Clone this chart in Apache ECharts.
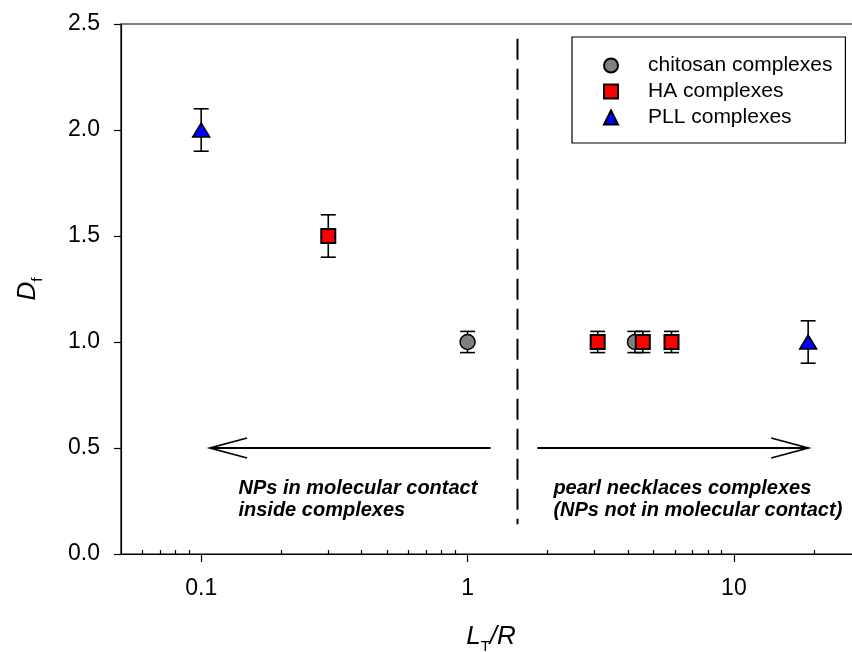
<!DOCTYPE html>
<html>
<head>
<meta charset="utf-8">
<script src="https://cdn.jsdelivr.net/npm/echarts@6/dist/echarts.min.js"></script>
<style>
  html, body { margin: 0; padding: 0; background: #fff; }
  #chart { width: 852px; height: 652px; }
</style>
</head>
<body>
<div id="chart"></div>
<script>
// values
var seriesNames = ['chitosan complexes', 'HA complexes', 'PLL complexes'];

var chitosanX = [1.0, 4.25];
var chitosanY = [1.0, 1.0];
var chitosanErr = [0.05, 0.05];

var haX = [0.3, 3.08, 4.55, 5.83];
var haY = [1.5, 1.0, 1.0, 1.0];
var haErr = [0.1, 0.05, 0.05, 0.05];

var pllX = [0.1, 19.0];
var pllY = [2.0, 1.0];
var pllErr = [0.1, 0.1];

var xMajorTicks = [0.1, 1, 10];
var xTickLabels = ['0.1', '1', '10'];
var xMinorTicks = [0.06, 0.07, 0.08, 0.09, 0.2, 0.3, 0.4, 0.5, 0.6, 0.7, 0.8, 0.9,
  2, 3, 4, 5, 6, 7, 8, 9, 20];
var yTicks = [0, 0.5, 1.0, 1.5, 2.0, 2.5];
var yTickLabels = ['0.0', '0.5', '1.0', '1.5', '2.0', '2.5'];

// annotations (data coordinates)
var dividerX = [1.54, 1.54];
var dividerY = [2.43, 0.14];
var arrowFrom = [1.22, 1.83];
var arrowTo = [0.108, 19.0];
var arrowY = [0.5, 0.5];
var noteX = [0.138, 2.10];
var noteY = [0.36, 0.36];
var noteText = [
  'NPs in molecular contact\ninside complexes',
  'pearl necklaces complexes\n(NPs not in molecular contact)'
];

var FONT = 'Liberation Sans, Arial, Helvetica, sans-serif';

function pairs(xs, ys) {
  return xs.map(function (x, i) { return [x, ys[i]]; });
}

function errRows(xs, ys, es) {
  return xs.map(function (x, i) { return [x, ys[i], es[i]]; });
}

function pickLabel(v, ticks, labels) {
  for (var i = 0; i < ticks.length; i++) {
    if (Math.abs(v - ticks[i]) < ticks[i] * 1e-6 + 1e-9) return labels[i];
  }
  return '';
}

function renderErrorBar(params, api) {
  var x = api.value(0), y = api.value(1), e = api.value(2);
  var top = api.coord([x, y + e]);
  var bot = api.coord([x, y - e]);
  var hw = 7.5;
  var style = { stroke: '#000', lineWidth: 1.6 };
  return {
    type: 'group',
    children: [
      { type: 'line', shape: { x1: top[0], y1: top[1], x2: bot[0], y2: bot[1] }, style: style },
      { type: 'line', shape: { x1: top[0] - hw, y1: top[1], x2: top[0] + hw, y2: top[1] }, style: style },
      { type: 'line', shape: { x1: bot[0] - hw, y1: bot[1], x2: bot[0] + hw, y2: bot[1] }, style: style }
    ]
  };
}

function renderArrow(params, api) {
  var a = api.coord([api.value(0), api.value(2)]);
  var b = api.coord([api.value(1), api.value(2)]);
  var dir = b[0] < a[0] ? 1 : -1;
  var len = 37, half = 10;
  var style = { stroke: '#000', lineWidth: 1.8, fill: null };
  return {
    type: 'group',
    children: [
      { type: 'line', shape: { x1: a[0], y1: a[1], x2: b[0], y2: b[1] }, style: style },
      {
        type: 'polyline',
        shape: { points: [[b[0] + dir * len, b[1] - half], [b[0], b[1]], [b[0] + dir * len, b[1] + half]] },
        style: style
      }
    ]
  };
}

function renderNote(params, api) {
  var p = api.coord([api.value(0), api.value(1)]);
  return {
    type: 'text',
    x: p[0],
    y: p[1],
    style: {
      text: noteText[params.dataIndex],
      fontSize: 20,
      fontWeight: 'bold',
      fontStyle: 'italic',
      fontFamily: FONT,
      lineHeight: 22,
      fill: '#000',
      align: 'left',
      verticalAlign: 'top'
    }
  };
}

var chart = echarts.init(document.getElementById('chart'));

var axisNameRich = {
  i: { fontSize: 26, fontStyle: 'italic', fontFamily: FONT, color: '#000', lineHeight: 34, verticalAlign: 'middle' },
  s: { fontSize: 15, fontFamily: FONT, color: '#000', lineHeight: 14, verticalAlign: 'bottom' }
};

var option = {
  animation: false,
  backgroundColor: '#fff',
  grid: {
    left: 121, top: 24, right: -9, bottom: 98,
    show: true, borderColor: '#000', borderWidth: 1.2,
    outerBoundsMode: 'none'
  },
  legend: {
    data: seriesNames,
    orient: 'vertical',
    left: 572,
    top: 37,
    itemWidth: 14,
    itemHeight: 14,
    itemGap: 5,
    padding: [18, 13, 15, 31],
    borderColor: '#000',
    borderWidth: 1.2,
    formatter: function (name) { return '{g| }' + name; },
    textStyle: {
      fontSize: 21, fontFamily: FONT, color: '#000', lineHeight: 21,
      rich: { g: { width: 25, fontSize: 21, lineHeight: 21 } }
    }
  },
  xAxis: [
    {
      type: 'log',
      logBase: 10,
      min: 0.05,
      max: 30,
      position: 'bottom',
      axisLine: { show: true, lineStyle: { color: '#000', width: 1.2 } },
      axisTick: { show: true, customValues: xMajorTicks, length: 8, lineStyle: { color: '#000', width: 1.2 } },
      axisLabel: {
        customValues: xMajorTicks,
        formatter: function (v) { return pickLabel(v, xMajorTicks, xTickLabels); },
        margin: 23, fontSize: 23, fontFamily: FONT, color: '#000'
      },
      splitLine: { show: false },
      name: '{i|L}{s|T}{i|/R}',
      nameLocation: 'middle',
      nameGap: 66,
      nameTextStyle: { rich: axisNameRich }
    },
    {
      type: 'log',
      logBase: 10,
      min: 0.05,
      max: 30,
      position: 'bottom',
      gridIndex: 0,
      axisLine: { show: false },
      axisTick: { show: true, inside: true, customValues: xMinorTicks, length: 4, lineStyle: { color: '#000', width: 1.2 } },
      axisLabel: { show: false },
      splitLine: { show: false }
    }
  ],
  yAxis: {
    type: 'value',
    min: yTicks[0],
    max: yTicks[yTicks.length - 1],
    axisLine: { show: true, lineStyle: { color: '#000', width: 1.2 } },
    axisTick: { show: true, customValues: yTicks, length: 7, lineStyle: { color: '#000', width: 1.2 } },
    axisLabel: {
      customValues: yTicks,
      formatter: function (v) { return pickLabel(v, yTicks, yTickLabels); },
      margin: 21, fontSize: 23, fontFamily: FONT, color: '#000'
    },
    splitLine: { show: false },
    name: '{i|D}{s|f}',
    nameLocation: 'middle',
    nameRotate: 90,
    nameGap: 76,
    nameTextStyle: { rich: axisNameRich }
  },
  series: [
    {
      type: 'custom',
      renderItem: renderErrorBar,
      silent: true,
      encode: { x: 0, y: [1, 2] },
      data: errRows(chitosanX, chitosanY, chitosanErr)
        .concat(errRows(haX, haY, haErr))
        .concat(errRows(pllX, pllY, pllErr)),
      z: 1
    },
    {
      name: seriesNames[0],
      type: 'scatter',
      symbol: 'circle',
      symbolSize: 15,
      itemStyle: { color: '#808080', borderColor: '#000', borderWidth: 1.5, opacity: 1 },
      data: pairs(chitosanX, chitosanY),
      z: 3
    },
    {
      name: seriesNames[1],
      type: 'scatter',
      symbol: 'rect',
      symbolSize: 14,
      itemStyle: { color: '#ff0000', borderColor: '#000', borderWidth: 2, opacity: 1 },
      data: pairs(haX, haY),
      z: 4
    },
    {
      name: seriesNames[2],
      type: 'scatter',
      symbol: 'triangle',
      symbolSize: [17, 14],
      itemStyle: { color: '#0000ff', borderColor: '#000', borderWidth: 1.5, opacity: 1 },
      data: pairs(pllX, pllY),
      z: 5
    },
    {
      type: 'line',
      data: pairs(dividerX, dividerY),
      symbol: 'none',
      silent: true,
      lineStyle: { color: '#000', width: 2, type: [21, 9] },
      z: 2
    },
    {
      type: 'custom',
      renderItem: renderArrow,
      silent: true,
      encode: { x: [0, 1], y: 2 },
      data: arrowFrom.map(function (x, i) { return [x, arrowTo[i], arrowY[i]]; }),
      z: 2
    },
    {
      type: 'custom',
      renderItem: renderNote,
      silent: true,
      encode: { x: 0, y: 1 },
      data: pairs(noteX, noteY),
      z: 2
    }
  ]
};

chart.setOption(option);
</script>
</body>
</html>
